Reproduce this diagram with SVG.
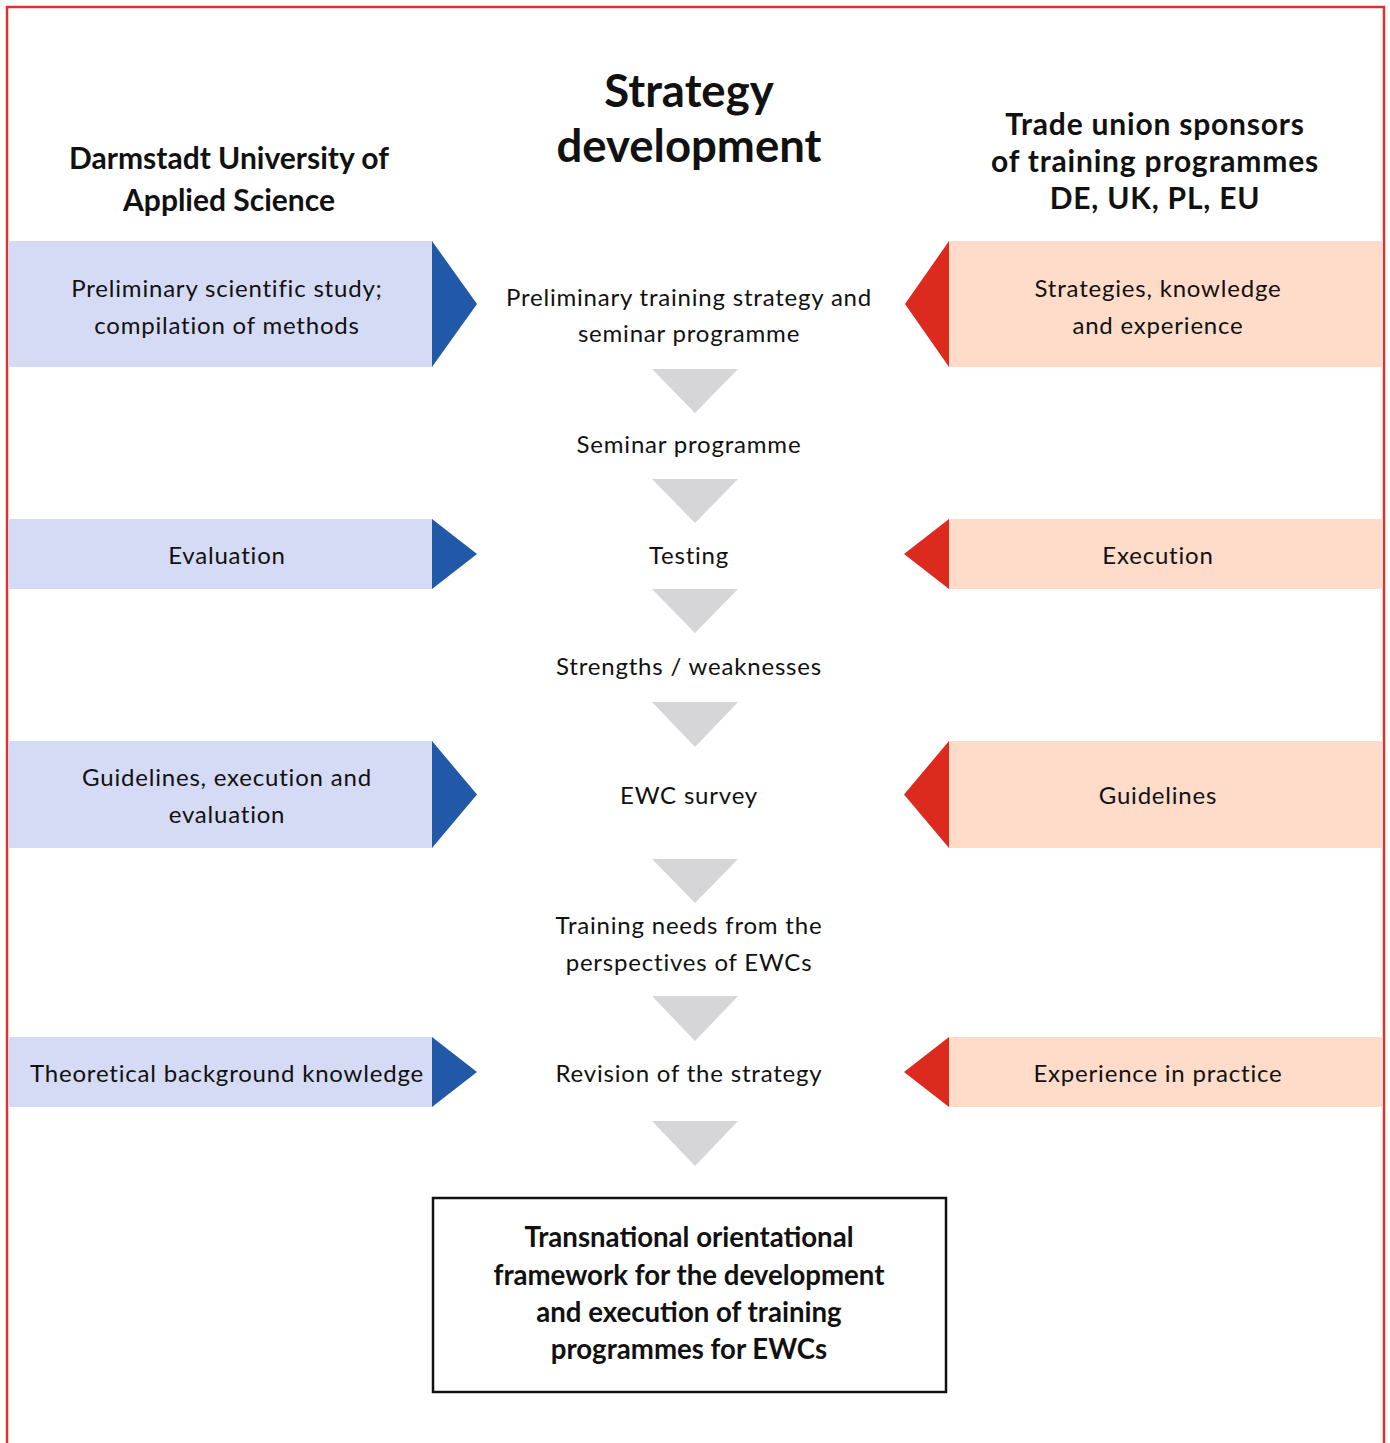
<svg xmlns="http://www.w3.org/2000/svg" width="1390" height="1443" viewBox="0 0 1390 1443">
<style>
text{font-family:Lato,"Liberation Sans",sans-serif;fill:#111;text-anchor:middle}
.b{font-size:24px;letter-spacing:0.8px}
.h{font-size:30px;font-weight:bold}
.hr{letter-spacing:0.8px}
.t{font-size:45.5px;font-weight:bold}
.f{font-size:27.6px;font-weight:bold}
.lb{fill:#d5dbf4}
.la{fill:#2159a8}
.rb{fill:#fedcc9}
.ra{fill:#dc2a1f}
.g{fill:#d6d6d8}
</style>
<rect width="1390" height="1443" fill="#fff"/>
<path d="M7 1443V7H1384V1443" fill="none" stroke="#e0322b" stroke-width="2.5"/>
<g id="heading-left"><text class="h" x="229" y="169">Darmstadt University of</text><text class="h" x="229" y="211">Applied Science</text></g>
<g id="heading-center"><text class="t" x="689" y="107">Strategy</text><text class="t" x="689" y="162">development</text></g>
<g id="heading-right"><text class="h hr" x="1155" y="135">Trade union sponsors</text><text class="h hr" x="1155" y="172">of training programmes</text><text class="h hr" x="1155" y="209">DE, UK, PL, EU</text></g>

<g id="left1"><rect class="lb" x="8" y="241" width="425" height="126"/><path class="la" d="M432 241L477 304L432 367Z"/><text class="b" x="227" y="297">Preliminary scientific study;</text><text class="b" x="227" y="334">compilation of methods</text></g>
<g id="left2"><rect class="lb" x="8" y="519" width="425" height="70"/><path class="la" d="M432 519L477 554L432 589Z"/><text class="b" x="227" y="564">Evaluation</text></g>
<g id="left3"><rect class="lb" x="8" y="741" width="425" height="107"/><path class="la" d="M432 741L477 794.5L432 848Z"/><text class="b" x="227" y="786">Guidelines, execution and</text><text class="b" x="227" y="823">evaluation</text></g>
<g id="left4"><rect class="lb" x="8" y="1037" width="425" height="70"/><path class="la" d="M432 1037L477 1072L432 1107Z"/><text class="b" x="227" y="1082">Theoretical background knowledge</text></g>

<g id="right1"><rect class="rb" x="948" y="241" width="435" height="126"/><path class="ra" d="M949 241L905 304L949 367Z"/><text class="b" x="1158" y="297">Strategies, knowledge</text><text class="b" x="1158" y="334">and experience</text></g>
<g id="right2"><rect class="rb" x="948" y="519" width="435" height="70"/><path class="ra" d="M949 519L904 554L949 589Z"/><text class="b" x="1158" y="564">Execution</text></g>
<g id="right3"><rect class="rb" x="948" y="741" width="435" height="107"/><path class="ra" d="M949 741L904 794.5L949 848Z"/><text class="b" x="1158" y="804">Guidelines</text></g>
<g id="right4"><rect class="rb" x="948" y="1037" width="435" height="70"/><path class="ra" d="M949 1037L904 1072L949 1107Z"/><text class="b" x="1158" y="1082">Experience in practice</text></g>

<g id="step1"><text class="b" x="689" y="306">Preliminary training strategy and</text><text class="b" x="689" y="342">seminar programme</text></g>
<g id="step2"><text class="b" x="689" y="453">Seminar programme</text></g>
<g id="step3"><text class="b" x="689" y="564">Testing</text></g>
<g id="step4"><text class="b" x="689" y="675">Strengths / weaknesses</text></g>
<g id="step5"><text class="b" x="689" y="804">EWC survey</text></g>
<g id="step6"><text class="b" x="689" y="934">Training needs from the</text><text class="b" x="689" y="971">perspectives of EWCs</text></g>
<g id="step7"><text class="b" x="689" y="1082">Revision of the strategy</text></g>
<g id="result"><rect x="433" y="1198" width="513" height="194" fill="#fff" stroke="#111" stroke-width="2.5"/><text class="f" x="689" y="1247">Transnational orientational</text><text class="f" x="689" y="1285">framework for the development</text><text class="f" x="689" y="1322">and execution of training</text><text class="f" x="689" y="1359">programmes for EWCs</text></g>

<g id="connectors">
<path class="g" d="M652 369H738L695 413Z"/>
<path class="g" d="M652 479H738L695 523Z"/>
<path class="g" d="M652 589H738L695 633Z"/>
<path class="g" d="M652 702H738L695 747Z"/>
<path class="g" d="M652 859H738L695 903Z"/>
<path class="g" d="M652 996H738L695 1041Z"/>
<path class="g" d="M652 1121H738L695 1166Z"/>
</g>
</svg>
